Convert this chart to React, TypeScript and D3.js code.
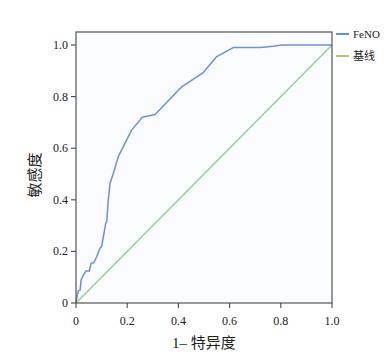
import React from "react";
import * as d3 from "d3";

const fprX = [0, 0.005, 0.009, 0.016, 0.02, 0.029, 0.039, 0.052, 0.059, 0.07, 0.081, 0.094, 0.1, 0.107, 0.116, 0.12, 0.126, 0.133, 0.146, 0.165, 0.185, 0.217, 0.259, 0.309, 0.413, 0.497, 0.55, 0.614, 0.719, 0.771, 0.803, 1.0];
const tprY = [0, 0.03, 0.048, 0.05, 0.09, 0.108, 0.124, 0.124, 0.154, 0.156, 0.18, 0.213, 0.218, 0.257, 0.309, 0.315, 0.4, 0.464, 0.503, 0.567, 0.606, 0.67, 0.72, 0.731, 0.838, 0.893, 0.955, 0.99, 0.99, 0.995, 1.0, 1.0];
const baseX = [0, 1];
const baseY = [0, 1];
const ticks = [0, 0.2, 0.4, 0.6, 0.8, 1.0];
const legendNames = ["FeNO", "基线"];

const serif = "Liberation Serif";
const cjk = "Noto Sans CJK SC";

export default function App() {
  const W = 389, H = 359;
  const left = 76, right = 332, top = 32, bottom = 303;
  const x = d3.scaleLinear().domain([0, 1]).range([left, right]);
  const y = d3.scaleLinear().domain([0, 1]).range([bottom, 45]);
  const line = d3.line<number>().x((d) => x(fprX[d])).y((d) => y(tprY[d]));
  const bline = d3.line<number>().x((d) => x(baseX[d])).y((d) => y(baseY[d]));
  const axisColor = "#555";
  return (
    <svg width={W} height={H} style={{ position: "absolute", left: 0, top: 0 }}>
      <rect x={0} y={0} width={W} height={H} fill="#fff" />
      <rect x={left} y={top} width={right - left} height={bottom - top} fill="#fbfcff" />
      <path d={bline(baseX.map((_, i) => i)) || ""} fill="none" stroke="#93d18e" strokeWidth={1.5} />
      <path d={line(fprX.map((_, i) => i)) || ""} fill="none" stroke="#6e8fd6" strokeWidth={1.5} strokeLinejoin="round" />
      <rect x={left} y={top} width={right - left} height={bottom - top} fill="none" stroke={axisColor} strokeWidth={1.2} />
      {ticks.map((t) => (
        <g key={"y" + t}>
          <line x1={left - 5} x2={left} y1={y(t)} y2={y(t)} stroke={axisColor} strokeWidth={1.2} />
          <text x={left - 8} y={y(t) + 4} textAnchor="end" fontSize={12} fontFamily={serif} fill="#222">
            {t === 0 ? "0" : t.toFixed(1)}
          </text>
        </g>
      ))}
      {ticks.map((t) => (
        <g key={"x" + t}>
          <line x1={x(t)} x2={x(t)} y1={bottom} y2={bottom + 5} stroke={axisColor} strokeWidth={1.2} />
          <text x={x(t)} y={bottom + 22} textAnchor="middle" fontSize={12} fontFamily={serif} fill="#222">
            {t === 0 ? "0" : t.toFixed(1)}
          </text>
        </g>
      ))}
      <text x={204} y={348} textAnchor="middle" fontSize={15} fill="#222">
        <tspan fontFamily={serif}>1– </tspan>
        <tspan fontFamily={cjk}>特异度</tspan>
      </text>
      <text transform={`translate(40,${175}) rotate(-90)`} textAnchor="middle" fontSize={15} fontFamily={cjk} fill="#222">
        敏感度
      </text>
      <line x1={336} x2={349} y1={34} y2={34} stroke="#1f77b4" strokeWidth={1.5} />
      <text x={353} y={38} fontSize={11} fontFamily={serif} fill="#222">{legendNames[0]}</text>
      <line x1={336} x2={349} y1={56} y2={56} stroke="#7cbf4a" strokeWidth={1.5} />
      <text x={353} y={60} fontSize={11} fontFamily={cjk} fill="#222">{legendNames[1]}</text>
    </svg>
  );
}
